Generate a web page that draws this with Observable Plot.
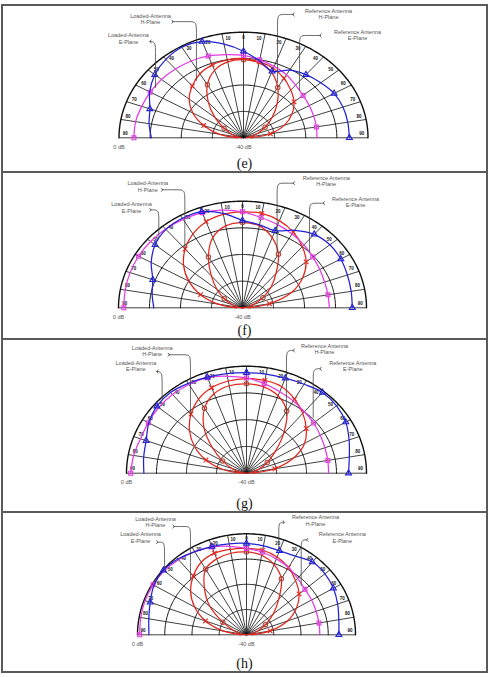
<!DOCTYPE html>
<html>
<head>
<meta charset="utf-8">
<script src="https://cdn.jsdelivr.net/npm/d3@7"></script>
<script src="https://cdn.jsdelivr.net/npm/@observablehq/plot@0.6"></script>
<style>
  html, body { margin: 0; padding: 0; background: #fff; }
  #page { position: relative; width: 489px; height: 677px; overflow: hidden; background: #fff; }
  .outer { position: absolute; left: 1px; top: 4px; width: 487px; height: 669px; border: 2px solid #5a5a5a; box-sizing: border-box; }
  .divider { position: absolute; left: 1px; width: 487px; height: 1.6px; background: #5a5a5a; }
  .caption { position: absolute; left: 0; width: 489px; text-align: center; font-family: "Liberation Serif", "Times New Roman", serif; font-size: 14px; line-height: 16px; color: #111; }
</style>
</head>
<body>
<div id="page"></div>
<script>
// Pattern angles (deg, 0 = broadside, negative to the left)
const angles = [-90, -80, -70, -60, -50, -40, -30, -20, -10, 0, 10, 20, 30, 40, 50, 60, 70, 80, 90];
const angleTickLabels = ["90", "80", "70", "60", "50", "40", "30", "20", "10", "0", "10", "20", "30", "40", "50", "60", "70", "80", "90"];
const ringLevels = [-30, -20, -10, 0];          // dB circles
const dbRange = [-40, 0];                        // centre .. rim
const rangeLabels = ["0 dB", "-40 dB"];
const panelLabels = ["(e)", "(f)", "(g)", "(h)"];
const loadedHName = "Loaded-Antenna\nH-Plane";
const loadedEName = "Loaded-Antenna\nE-Plane";
const refHName = "Reference Antenna\nH-Plane";
const refEName = "Reference Antenna\nE-Plane";

// Normalised radiation patterns, dB
const eLoadedE = [-10.4, -9.2, -8.0, -5.2, -2.8, -1.2, -0.4, -1.2, -4.0, -7.2, -10.4, -13.2, -10.4, -8.8, -7.6, -6.4, -6.0, -6.0, -6.0];
const eLoadedH = [-38, -32, -26.4, -21.2, -17.2, -14.4, -12, -10.6, -10, -10, -10.8, -12, -14, -16.4, -18.8, -22, -26, -31.2, -37.6];
const eRefH = [-39.2, -38, -36, -32.8, -28, -22.4, -16.8, -12.8, -10.8, -10.4, -11.2, -13.6, -18, -23.2, -28, -32, -35.2, -37.6, -39.2];
const eRefE = [-4.8, -4.8, -5.2, -5.4, -5.6, -6, -6.4, -7, -8, -8.8, -10, -11.2, -12.4, -14, -15, -15.6, -16, -16.2, -16.4];

const fLoadedE = [-11.4, -10.4, -9.2, -6, -3.2, -1.6, -1.2, -1.6, -4, -7.2, -8.4, -9.2, -6.4, -4, -3.2, -3.4, -4, -4.4, -4.6];
const fLoadedH = [-38, -32, -25.6, -20, -15.2, -11.2, -8, -5.6, -4.4, -4, -4, -5.2, -7.2, -10, -13.2, -17.6, -23.2, -31.2, -38];
const fRefH = [-40, -38.4, -36.4, -33.2, -29.2, -24.4, -18, -12, -8.8, -8, -8.8, -12, -16.8, -23.2, -28, -32.4, -36, -38, -40];
const fRefE = [-1.7, -1.6, -1.4, -1.3, -1.3, -1.4, -1.7, -2, -2.8, -4, -5.6, -6.8, -8, -9.2, -10.4, -11.2, -11.8, -12, -12];

const gLoadedE = [-5.8, -5.2, -4.4, -2.4, -1, -0.6, -1.2, -1.8, -2.2, -2.4, -2.4, -2.2, -1.6, -0.6, -0.8, -1.8, -3.6, -5.2, -6];
const gLoadedH = [-38, -32, -25.6, -20, -15.2, -11.2, -8, -6, -5, -4.6, -4.8, -5.6, -8, -10.8, -14, -17.6, -23.2, -30.4, -38];
const gRefH = [-40, -37.6, -34.8, -30.8, -25.2, -18, -12, -8.4, -6.8, -6.6, -7.2, -9.2, -13.2, -20.8, -27.6, -32, -35.6, -38, -40];
const gRefE = [-1.4, -1.8, -2.4, -2.2, -1.8, -1.6, -1.7, -2, -3.2, -4.4, -6, -7.6, -8.8, -10, -10.8, -11.6, -12.2, -12.5, -12.6];

const hLoadedE = [-4.2, -3.6, -2.4, -0.8, -0.2, -0.8, -2, -2.8, -3.4, -3.8, -4.2, -4.6, -4, -2.4, -2.4, -3.2, -4.4, -5.6, -6.1];
const hLoadedH = [-38, -31.2, -24, -18, -13.2, -9.6, -6.8, -5.6, -5.6, -5.8, -6, -7.2, -9.2, -12, -14.8, -18.8, -24, -31.2, -38];
const hRefH = [-40, -37.6, -34.8, -30, -22.4, -16, -10, -8, -7.2, -7.2, -8, -10.4, -14.4, -21.6, -27.2, -32, -35.6, -38, -40];
const hRefE = [-0.8, -0.6, -0.4, -0.4, -0.6, -1.2, -2, -3, -4.4, -5.8, -6.8, -8, -9.2, -10.8, -12, -12.4, -12.8, -13, -13.1];

// Trace styles (drawn in this order) and the angles that carry a symbol
const traceStyles = [
  {key: "refH", stroke: "#e3261d", symbol: "circle", symbolStroke: "#a84a3c", symbolAt: [-60, -30, 0, 30, 60]},
  {key: "loadedH", stroke: "#e3261d", symbol: "times", symbolStroke: "#e3261d", symbolAt: [-70, -40, -20, 10, 30, 50, 80]},
  {key: "refE", stroke: "#e23be2", symbol: "square", symbolStroke: "#e23be2", symbolAt: [-90, -60, -20, 0, 10, 50, 80]},
  {key: "loadedE", stroke: "#2222d4", symbol: "triangle", symbolStroke: "#2222d4", symbolAt: [-70, -50, -20, 0, 20, 40, 60, 90]}
];

// Callout layout in normalised polar-frame units: label centre, leader start, drop column, leader end
const eCallouts = [
  {text: loadedHName, tx: -0.747, ty: 1.124, sx: -0.57, sy: 1.10, dx: -0.378, ey: 0.543},
  {text: loadedEName, tx: -0.924, ty: 0.94, sx: -0.747, sy: 0.912, dx: -0.707, ey: 0.476},
  {text: refHName, tx: 0.683, ty: 1.172, sx: 0.402, sy: 1.168, dx: 0.273, ey: 0.524},
  {text: refEName, tx: 0.916, ty: 0.973, sx: 0.618, sy: 0.969, dx: 0.45, ey: 0.448}
];
const fCallouts = [
  {text: loadedHName, tx: -0.764, ty: 1.138, sx: -0.648, sy: 1.107, dx: -0.465, ey: 0.547},
  {text: loadedEName, tx: -0.895, ty: 0.942, sx: -0.742, sy: 0.919, dx: -0.675, ey: 0.662},
  {text: refHName, tx: 0.675, ty: 1.191, sx: 0.414, sy: 1.169, dx: 0.279, ey: 0.522},
  {text: refEName, tx: 0.911, ty: 0.991, sx: 0.656, sy: 0.981, dx: 0.54, ey: 0.522}
];
const gCallouts = [
  {text: loadedHName, tx: -0.786, ty: 1.143, sx: -0.647, sy: 1.107, dx: -0.467, ey: 0.549},
  {text: loadedEName, tx: -0.922, ty: 0.999, sx: -0.744, sy: 0.95, dx: -0.703, ey: 0.695},
  {text: refHName, tx: 0.65, ty: 1.159, sx: 0.394, sy: 1.147, dx: 0.333, ey: 0.539},
  {text: refEName, tx: 0.886, ty: 0.999, sx: 0.617, sy: 0.976, dx: 0.556, ey: 0.523}
];
const hCallouts = [
  {text: loadedHName, tx: -0.835, ty: 1.114, sx: -0.667, sy: 1.072, dx: -0.514, ey: 0.538},
  {text: loadedEName, tx: -0.972, ty: 0.964, sx: -0.819, sy: 0.917, dx: -0.752, ey: 0.669},
  {text: refHName, tx: 0.633, ty: 1.131, sx: 0.342, sy: 1.115, dx: 0.296, ey: 0.835},
  {text: refEName, tx: 0.878, ty: 0.964, sx: 0.557, sy: 0.941, dx: 0.502, ey: 0.488}
];

// Panel frames on the page (pixels)
const panels = [
  {label: panelLabels[0], top: 5, bottom: 172, cx: 243, cy: 137.3, rx: 124.5, ry: 105.6,
   traces: {refH: eRefH, loadedH: eLoadedH, refE: eRefE, loadedE: eLoadedE}, callouts: eCallouts},
  {label: panelLabels[1], top: 172, bottom: 339, cx: 242, cy: 307.3, rx: 124, ry: 106.6,
   traces: {refH: fRefH, loadedH: fLoadedH, refE: fRefE, loadedE: fLoadedE}, callouts: fCallouts},
  {label: panelLabels[2], top: 339, bottom: 512, cx: 246, cy: 472.7, rx: 120, ry: 107,
   traces: {refH: gRefH, loadedH: gLoadedH, refE: gRefE, loadedE: gLoadedE}, callouts: gCallouts},
  {label: panelLabels[3], top: 512, bottom: 672, cx: 246, cy: 634.3, rx: 109, ry: 101,
   traces: {refH: hRefH, loadedH: hLoadedH, refE: hRefE, loadedE: hLoadedE}, callouts: hCallouts}
];

const rad = d => d * Math.PI / 180;
function toXY(angle, db) {
  const r = (db - dbRange[0]) / (dbRange[1] - dbRange[0]);
  return {x: r * Math.sin(rad(angle)), y: r * Math.cos(rad(angle))};
}

// Shared polar grid
const ringPoints = ringLevels.flatMap(level =>
  d3.range(-90, 90.5, 1).map(a => ({ring: level, ...toXY(a, level)})));
const spokes = angles.map(a => ({x1: 0, y1: 0, x2: Math.sin(rad(a)), y2: Math.cos(rad(a))}));
const angleTickMarks = angles.map((a, i) => {
  const shifted = a - Math.sign(a) * 2.5;
  const p = toXY(shifted, -2.0);
  return {x: p.x, y: p.y, text: angleTickLabels[i]};
});
const rangeText = [
  {x: -1, y: 0, text: rangeLabels[0], anchor: "start"},
  {x: 0, y: 0, text: rangeLabels[1], anchor: "middle"}
];

const page = document.getElementById("page");
const outer = document.createElement("div");
outer.className = "outer";
page.appendChild(outer);

panels.forEach((p, pi) => {
  const h = p.bottom - p.top;
  const marks = [
    Plot.line(ringPoints.filter(d => d.ring < 0), {x: "x", y: "y", z: "ring", stroke: "#111", strokeWidth: 1}),
    Plot.line(ringPoints.filter(d => d.ring === 0), {x: "x", y: "y", stroke: "#111", strokeWidth: 1.4}),
    Plot.link(spokes, {x1: "x1", y1: "y1", x2: "x2", y2: "y2", stroke: "#111", strokeWidth: 0.8}),
    Plot.text(angleTickMarks, {x: "x", y: "y", text: "text", fontSize: 4.5, fontWeight: "bold", fill: "#111"}),
    Plot.text(rangeText, {x: "x", y: "y", text: "text", textAnchor: "anchor", dy: 9, fontSize: 5.5, fill: "#555"})
  ];

  traceStyles.forEach(s => {
    const values = p.traces[s.key];
    const pts = angles.map((a, i) => ({angle: a, ...toXY(a, values[i])}));
    marks.push(Plot.line(pts, {x: "x", y: "y", stroke: s.stroke, strokeWidth: 1.25, curve: "catmull-rom"}));
    marks.push(Plot.dot(pts.filter(d => s.symbolAt.includes(d.angle)),
      {x: "x", y: "y", symbol: () => s.symbol, r: 2.2, stroke: s.symbolStroke, strokeWidth: 1.1, fill: "none"}));
  });

  // Callout leaders: horizontal run from the label, rounded bend, vertical drop to the trace
  const leaderPts = p.callouts.flatMap((c, i) => {
    const dir = Math.sign(c.dx - c.sx);
    return [
      {id: i, x: c.sx, y: c.sy},
      {id: i, x: c.dx - dir * 0.05, y: c.sy},
      {id: i, x: c.dx, y: c.sy},
      {id: i, x: c.dx, y: c.sy - 0.1},
      {id: i, x: c.dx, y: c.ey}
    ];
  });
  marks.push(Plot.line(leaderPts, {x: "x", y: "y", z: "id", curve: "basis", stroke: "#444", strokeWidth: 0.8, markerStart: "arrow"}));
  marks.push(Plot.text(p.callouts, {x: "tx", y: "ty", text: "text", fontSize: 5.5, fill: "#555", lineHeight: 1.15}));

  const chart = Plot.plot({
    width: 489,
    height: h,
    margin: 0,
    x: {domain: [-1, 1], range: [p.cx - p.rx, p.cx + p.rx], axis: null},
    y: {domain: [0, 1], range: [p.cy - p.top, p.cy - p.top - p.ry], axis: null},
    style: {background: "transparent", fontFamily: "'Liberation Sans', Arial, sans-serif", overflow: "visible"},
    marks
  });
  chart.style.position = "absolute";
  chart.style.left = "0px";
  chart.style.top = p.top + "px";
  page.appendChild(chart);

  const cap = document.createElement("div");
  cap.className = "caption";
  cap.style.top = (p.bottom - 16) + "px";
  cap.textContent = p.label;
  page.appendChild(cap);

  if (pi < panels.length - 1) {
    const div = document.createElement("div");
    div.className = "divider";
    div.style.top = (p.bottom - 0.8) + "px";
    page.appendChild(div);
  }
});
</script>
</body>
</html>
